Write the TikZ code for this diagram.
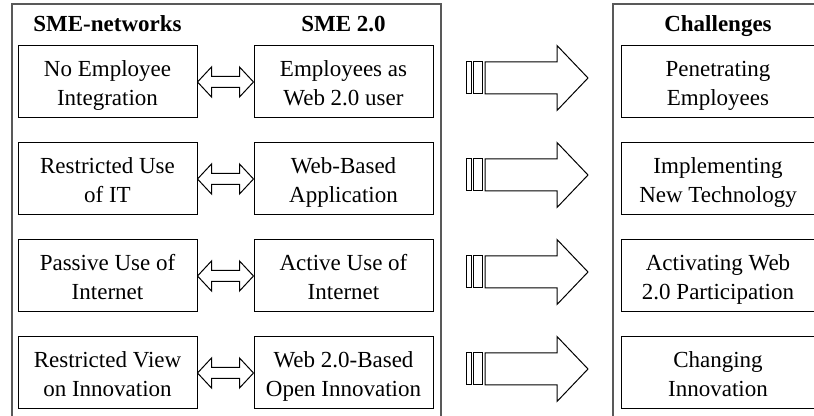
\documentclass[tikz,border=0pt]{standalone}
\usepackage{fontspec}
\setmainfont{Liberation Serif}
\usetikzlibrary{calc}

% hollow two-headed arrow between two boxes
\newcommand{\Link}[2]{%
\draw (#1.east) -- ++(14,-15) -- ++(0,9.5) -- ($(#2.west)+(-14,-5.5)$) -- ++(0,-9.5)
  -- (#2.west) -- ++(-14,15) -- ++(0,-9.5) -- ($(#1.east)+(14,5.5)$) -- ++(0,9.5) -- cycle;}

% striped block arrow, #1 = start of the shaft
\newcommand{\Push}[1]{%
\draw (#1) ++(-19,-16) rectangle ++(5,32);
\draw (#1) ++(-12,-16) rectangle ++(9,32);
\draw (#1) ++(0,-16) -- ++(72,0) -- ++(0,-16.5) -- ++(31,32.5) -- ++(-31,32.5)
  -- ++(0,-16.5) -- ++(-72,0) -- cycle;}

\tikzset{
  txt/.style={font=\fontsize{11.5}{14.5}\selectfont},
  head/.style={font=\fontsize{11.5}{14.5}\selectfont\bfseries, anchor=base},
  box/.style={txt, draw, line width=0.5pt, align=center, inner sep=0pt,
    text height=27pt, text depth=3pt,
    minimum width=89.5pt, minimum height=36pt},
  wide/.style={box, minimum width=97pt},
  frame/.style={draw=black!65, line width=0.6pt}
}

\begin{document}
\begin{tikzpicture}[x=0.5pt,y=-0.5pt,line width=0.5pt]
\useasboundingbox (0,0) rectangle (814,416);
\clip (0,0) rectangle (814,416);

\draw[frame] (12,4) rectangle (441,430); % left
\draw[frame] (613,4) rectangle (830,430); % right

\node[head] (tnet) at (107.5,32) {SME-networks};
\node[head] (tsme) at (343.5,32) {SME 2.0};
\node[head] (tch) at (718,32) {Challenges};

\node[box] (n1) at (107.5,82) {No Employee\\Integration};
\node[box] (n2) at (107.5,179) {Restricted Use\\of IT};
\node[box] (n3) at (107.5,276) {Passive Use of\\Internet};
\node[box] (n4) at (107.5,373) {Restricted View\\on Innovation};

\node[box] (s1) at (343.5,82) {Employees as\\Web 2.0 user};
\node[box] (s2) at (343.5,179) {Web-Based\\Application};
\node[box] (s3) at (343.5,276) {Active Use of\\Internet};
\node[box] (s4) at (343.5,373) {Web 2.0-Based\\Open Innovation};

\node[wide] (c1) at (718,82) {Penetrating\\Employees};
\node[wide] (c2) at (718,179) {Implementing\\New Technology};
\node[wide] (c3) at (718,276) {Activating Web\\2.0 Participation};
\node[wide] (c4) at (718,373) {Changing\\Innovation};

\Link{n1}{s1}
\Link{n2}{s2}
\Link{n3}{s3}
\Link{n4}{s4}

\coordinate (p1) at (485,78);
\coordinate (p2) at (485,175);
\coordinate (p3) at (485,272);
\coordinate (p4) at (485,369);
\Push{p1}
\Push{p2}
\Push{p3}
\Push{p4}
\end{tikzpicture}
\end{document}
